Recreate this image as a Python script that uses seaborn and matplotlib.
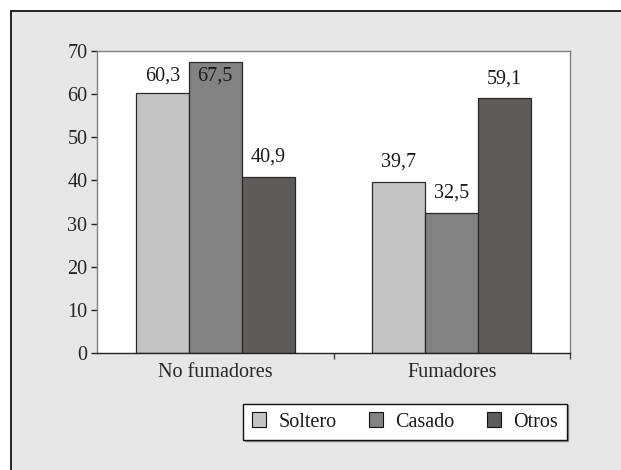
import matplotlib
matplotlib.use("Agg")
import matplotlib.pyplot as plt
from matplotlib.patches import Rectangle
import seaborn as sns
import pandas as pd

# Data
groups = ["No fumadores", "Fumadores"]
estado = ["Soltero", "Casado", "Otros"]
soltero = [60.3, 39.7]
casado = [67.5, 32.5]
otros = [40.9, 59.1]
yticks = [0, 10, 20, 30, 40, 50, 60, 70]
colors = ["#c4c4c4", "#838282", "#5d5c5a"]

rows = []
for serie, vals in zip(estado, [soltero, casado, otros]):
    for g, v in zip(groups, vals):
        rows.append({"grupo": g, "estado": serie, "valor": v})
df = pd.DataFrame(rows)

sns.set_theme(style="white")
plt.rcParams["font.family"] = ["Liberation Serif", "DejaVu Serif"]
plt.rcParams["text.color"] = "#1a1a1a"
FS = 14.5

fig = plt.figure(figsize=(6.21, 4.70), dpi=100, facecolor="white")
# grey panel with black frame behind the chart
fig.patches.append(Rectangle((11 / 621, -0.05), 1.0, 1 - 11 / 470 + 0.05,
                             transform=fig.transFigure, facecolor="#e6e6e6",
                             edgecolor="black", linewidth=1.2, zorder=-10))

ax = fig.add_axes([97 / 621, (470 - 353) / 470, (570 - 97) / 621, (353 - 51) / 470])
sns.barplot(data=df, x="grupo", y="valor", hue="estado", order=groups,
            hue_order=estado, palette=colors, width=0.672, saturation=1,
            edgecolor="#2a2a2a", linewidth=0.9, ax=ax)

ax.set_ylim(0, 70)
ax.set_xlim(-0.5, 1.5)
ax.set_yticks(yticks)
ax.set_xlabel("")
ax.set_ylabel("")
ax.set_facecolor("white")

for side in ["top", "right", "left"]:
    ax.spines[side].set_visible(True)
    ax.spines[side].set_color("#808080")
    ax.spines[side].set_linewidth(1.0)
ax.spines["bottom"].set_color("#222222")
ax.spines["bottom"].set_linewidth(1.0)

ax.tick_params(axis="y", which="major", direction="out", length=4, width=1,
               color="#222222", labelsize=FS, pad=3, left=True)
ax.tick_params(axis="x", which="major", length=0, labelsize=FS, pad=7)
ax.set_xticks([0.5, 1.5], minor=True)
ax.tick_params(axis="x", which="minor", direction="out", length=4, width=1,
               color="#444444", bottom=True)

# value labels above each bar, kept inside the plot area
top_cap = 62.0
for cont in ax.containers:
    for bar in cont:
        v = bar.get_height()
        y = min(v + 2.3, top_cap)
        ax.text(bar.get_x() + bar.get_width() / 2, y,
                f"{v:.1f}".replace(".", ","), ha="center", va="bottom",
                fontsize=FS)

leg = ax.legend(loc="center", bbox_to_anchor=(405 / 621, (470 - 422) / 470),
                bbox_transform=fig.transFigure, ncol=3, frameon=True,
                fancybox=False, shadow={"ox": 0.9, "oy": -0.9, "color": "#8c8c8c", "alpha": 1},
                edgecolor="#111111", facecolor="white", fontsize=FS,
                handlelength=0.72, handleheight=0.72, handletextpad=0.6,
                columnspacing=1.6, borderpad=0.42, framealpha=1)
leg.get_frame().set_linewidth(1.0)
for h in leg.legend_handles:
    h.set_edgecolor("#111111")
    h.set_linewidth(0.8)

fig.savefig("out.png", dpi=100, facecolor=fig.get_facecolor())
